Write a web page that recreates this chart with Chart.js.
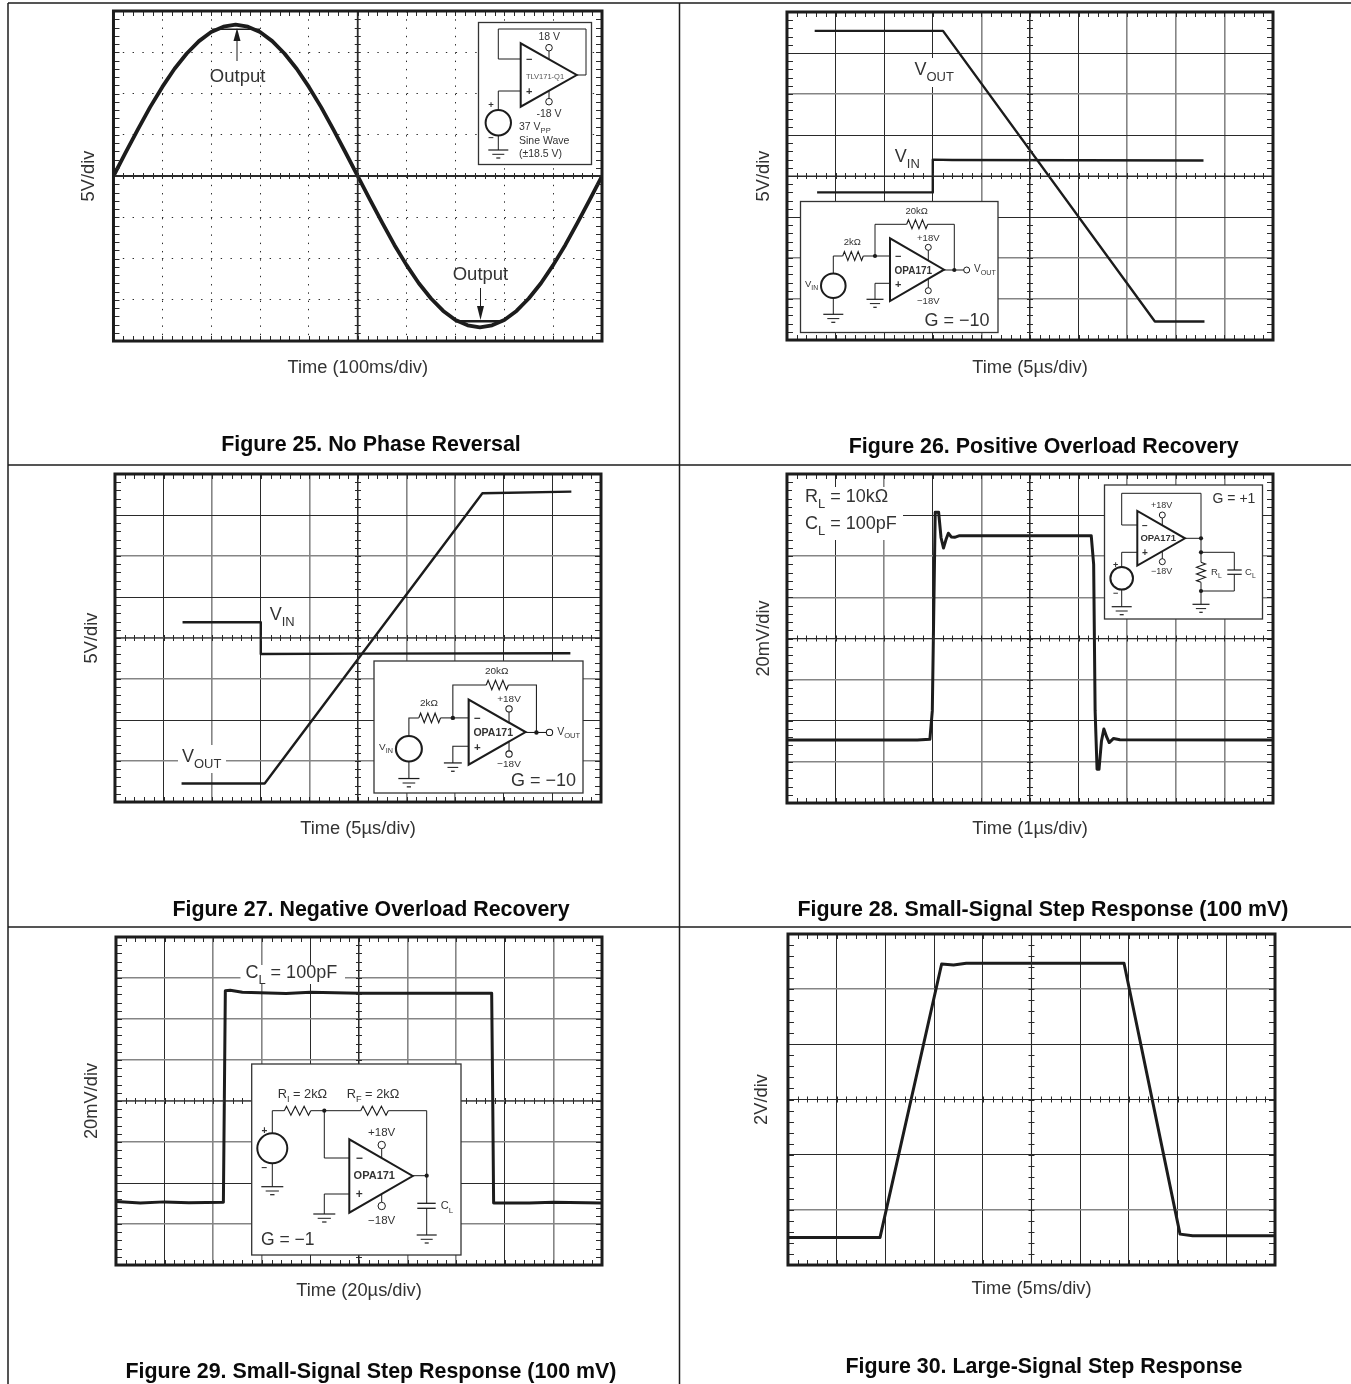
<!DOCTYPE html>
<html>
<head>
<meta charset="utf-8">
<script src="https://cdn.jsdelivr.net/npm/chart.js@4/dist/chart.umd.js"></script>
<style>
  html, body { margin: 0; padding: 0; background: #fff; }
  body { position: relative; width: 1351px; height: 1384px; overflow: hidden; font-family: 'Liberation Sans', Arial, sans-serif; }
  canvas { position: absolute; }
  svg { position: absolute; left: 0; top: 0; }
</style>
</head>
<body>
<script>
// all traces are in scope divisions: x 0..10, y counted from the centre line
const fig25SineX = [0, 0.25, 0.5, 0.75, 1, 1.25, 1.5, 1.75, 2, 2.25, 2.5, 2.75, 3, 3.25, 3.5, 3.75, 4, 4.25, 4.5, 4.75, 5, 5.25, 5.5, 5.75, 6, 6.25, 6.5, 6.75, 7, 7.25, 7.5, 7.75, 8, 8.25, 8.5, 8.75, 9, 9.25, 9.5, 9.75, 10];
const fig25SineY = [0, 0.57, 1.13, 1.67, 2.16, 2.6, 2.97, 3.27, 3.49, 3.62, 3.67, 3.62, 3.49, 3.27, 2.97, 2.6, 2.16, 1.67, 1.13, 0.57, 0, -0.57, -1.13, -1.67, -2.16, -2.6, -2.97, -3.27, -3.49, -3.62, -3.67, -3.62, -3.49, -3.27, -2.97, -2.6, -2.16, -1.67, -1.13, -0.57, 0];
const fig25ClipTopX = [2.02, 3];
const fig25ClipTopY = [3.56, 3.56];
const fig25ClipBottomX = [6.99, 7.96];
const fig25ClipBottomY = [-3.52, -3.52];

const fig26OutX = [0.57, 3.21, 7.57, 8.59];
const fig26OutY = [3.54, 3.54, -3.55, -3.55];
const fig26InX = [0.62, 3, 3, 3.4, 8.57];
const fig26InY = [-0.4, -0.4, 0.4, 0.39, 0.38];

const fig27InX = [1.39, 3, 3, 5, 9.37];
const fig27InY = [0.385, 0.385, -0.39, -0.38, -0.37];
const fig27OutX = [1.37, 3.08, 7.56, 9.39];
const fig27OutY = [-3.55, -3.55, 3.53, 3.57];

const fig28X = [0, 2.68, 2.94, 2.99, 3.05, 3.12, 3.17, 3.22, 3.27, 3.32, 3.38, 3.45, 3.55, 6.26, 6.31, 6.34, 6.38, 6.42, 6.47, 6.52, 6.58, 6.63, 6.72, 6.85, 10];
const fig28Y = [-2.47, -2.47, -2.45, -1.76, 3.07, 3.07, 2.45, 2.2, 2.4, 2.56, 2.47, 2.46, 2.5, 2.5, 1.8, -1.76, -3.18, -3.18, -2.5, -2.2, -2.4, -2.53, -2.43, -2.46, -2.47];

const fig29X = [0, 0.5, 1, 1.5, 2.21, 2.25, 2.35, 2.6, 3.5, 4, 5, 7.73, 7.75, 7.77, 8.5, 9, 10];
const fig29Y = [-2.45, -2.49, -2.46, -2.48, -2.47, 2.69, 2.7, 2.65, 2.62, 2.65, 2.63, 2.63, 0.25, -2.49, -2.49, -2.47, -2.49];

const fig30X = [0, 1.89, 3.155, 3.4, 3.66, 6.9, 8.05, 8.31, 10];
const fig30Y = [-2.5, -2.5, 2.456, 2.44, 2.47, 2.47, -2.44, -2.47, -2.47];

const xTitles = ['Time (100ms/div)', 'Time (5\u00b5s/div)', 'Time (5\u00b5s/div)', 'Time (1\u00b5s/div)', 'Time (20\u00b5s/div)', 'Time (5ms/div)'];
const yTitles = ['5V/div', '5V/div', '5V/div', '20mV/div', '20mV/div', '2V/div'];
const figureTitles = ['Figure 25. No Phase Reversal', 'Figure 26. Positive Overload Recovery', 'Figure 27. Negative Overload Recovery', 'Figure 28. Small-Signal Step Response (100 mV)', 'Figure 29. Small-Signal Step Response (100 mV)', 'Figure 30. Large-Signal Step Response'];

const pts = (xs, ys) => xs.map((x, i) => ({ x, y: ys[i] }));
const FONT = "'Liberation Sans', Arial, sans-serif";
const INK = '#1c1c1c';

const panels = [
  { left: 113.5, right: 603, top: 11, bottom: 342, yDivs: 4, yGap: 24.5, xGap: 27, dotted: true, greyX: [], greyY: [],
    traces: [{ d: pts(fig25SineX, fig25SineY), w: 3.8 }, { d: pts(fig25ClipTopX, fig25ClipTopY), w: 1.5 }, { d: pts(fig25ClipBottomX, fig25ClipBottomY), w: 2.5 }] },
  { left: 787, right: 1274, top: 12, bottom: 341, yDivs: 4, yGap: 23, xGap: 28, greyX: [4, 7, 8, 9], greyY: [2, -2, -3],
    traces: [{ d: pts(fig26OutX, fig26OutY), w: 2.4 }, { d: pts(fig26InX, fig26InY), w: 2.4 }] },
  { left: 114.5, right: 601, top: 474, bottom: 803, yDivs: 4, yGap: 23, xGap: 27, greyX: [2, 4, 6, 7], greyY: [2, 0, -1, -3],
    traces: [{ d: pts(fig27InX, fig27InY), w: 2.4 }, { d: pts(fig27OutX, fig27OutY), w: 2.4 }] },
  { left: 787, right: 1274, top: 474, bottom: 804, yDivs: 4, yGap: 23, xGap: 26, greyX: [2, 4, 7, 8, 9], greyY: [2, 1, 0, -1, -3],
    traces: [{ d: pts(fig28X, fig28Y), w: 3 }] },
  { left: 116, right: 603, top: 937, bottom: 1266, yDivs: 4, yGap: 24, xGap: 26, greyX: [2, 3, 6, 7, 9], greyY: [3, 2, 1, 0, -1, -3],
    traces: [{ d: pts(fig29X, fig29Y), w: 3 }] },
  { left: 788, right: 1276, top: 934, bottom: 1266, yDivs: 3, yGap: 26, xGap: 24, greyX: [], greyY: [2, -2],
    traces: [{ d: pts(fig30X, fig30Y), w: 3 }] }
];

const titleSize = 18.3;
const titleLine = titleSize * 1.2;

// frame, centre axes and the fifth-of-a-division ticks
const graticule = {
  id: 'graticule',
  afterDatasetsDraw(chart, args, opts) {
    const { ctx, chartArea: a, scales: { x, y } } = chart;
    const yDivs = y.max;
    ctx.save();
    ctx.strokeStyle = '#2a2a2a';
    ctx.lineWidth = 1;
    const seg = (x1, y1, x2, y2) => { ctx.beginPath(); ctx.moveTo(x1, y1); ctx.lineTo(x2, y2); ctx.stroke(); };
    for (let i = 1; i < 50; i++) {
      const px = Math.round(x.getPixelForValue(i / 5)) + 0.5;
      seg(px, a.top, px, a.top + 5);
      seg(px, a.bottom - 5, px, a.bottom);
      seg(px, y.getPixelForValue(0) - 3, px, y.getPixelForValue(0) + 3);
    }
    for (let i = -yDivs * 5 + 1; i < yDivs * 5; i++) {
      const py = Math.round(y.getPixelForValue(i / 5)) + 0.5;
      seg(a.left, py, a.left + 6, py);
      seg(a.right - 6, py, a.right, py);
      seg(x.getPixelForValue(5) - 3, py, x.getPixelForValue(5) + 3, py);
    }
    ctx.lineWidth = opts.centreWidth;
    seg(x.getPixelForValue(5), a.top, x.getPixelForValue(5), a.bottom);
    seg(a.left, y.getPixelForValue(0), a.right, y.getPixelForValue(0));
    ctx.lineWidth = 3;
    ctx.strokeStyle = INK;
    ctx.strokeRect(a.left, a.top, a.right - a.left, a.bottom - a.top);
    ctx.restore();
  }
};

panels.forEach((p, i) => {
  const canvas = document.createElement('canvas');
  const cLeft = p.left - p.yGap - titleLine / 2;
  const cTop = p.top - 3;
  const cBottom = p.bottom + p.xGap + titleLine / 2;
  canvas.width = p.right + 3 - cLeft;
  canvas.height = cBottom - cTop;
  canvas.style.left = cLeft + 'px';
  canvas.style.top = cTop + 'px';
  document.body.appendChild(canvas);
  const divW = (p.right - p.left) / 10;
  const divH = (p.bottom - p.top) / (p.yDivs * 2);
  new Chart(canvas, {
    type: 'line',
    plugins: [graticule],
    data: {
      datasets: p.traces.map(t => ({ data: t.d, borderColor: INK, borderWidth: t.w, pointRadius: 0, tension: 0, fill: false, borderJoinStyle: 'round' }))
    },
    options: {
      responsive: false,
      animation: false,
      devicePixelRatio: 1,
      layout: { padding: { top: 3, right: 3 } },
      plugins: { legend: { display: false }, tooltip: { enabled: false }, title: { display: false }, graticule: { centreWidth: p.dotted ? 1.8 : 1.1 } },
      scales: {
        x: {
          type: 'linear', min: 0, max: 10,
          ticks: { display: false, stepSize: 1, autoSkip: false },
          border: { display: false, dash: p.dotted ? [1.4, divH / 5 - 1.4] : [] },
          grid: {
            drawTicks: false,
            color: c => p.greyX.includes(c.tick.value) ? '#858585' : '#2a2a2a',
            lineWidth: c => p.greyX.includes(c.tick.value) ? 1.6 : 1
          },
          title: { display: true, text: xTitles[i], color: '#333', padding: 0, font: { family: FONT, size: titleSize, lineHeight: 1.2 } },
          afterFit: s => { s.height = cBottom - p.bottom; }
        },
        y: {
          type: 'linear', min: -p.yDivs, max: p.yDivs,
          ticks: { display: false, stepSize: 1, autoSkip: false },
          border: { display: false, dash: p.dotted ? [1.4, divW / 5 - 1.4] : [] },
          grid: {
            drawTicks: false,
            color: c => p.greyY.includes(c.tick.value) ? '#858585' : '#2a2a2a',
            lineWidth: c => p.greyY.includes(c.tick.value) ? 1.6 : 1
          },
          title: { display: true, text: yTitles[i], color: '#333', padding: 0, font: { family: FONT, size: titleSize, lineHeight: 1.2 } },
          afterFit: s => { s.width = p.left - cLeft; }
        }
      }
    }
  });
});

// schematic and annotation helpers, absolute page pixels
const line = (x1, y1, x2, y2, w = 1) => `<line x1="${x1}" y1="${y1}" x2="${x2}" y2="${y2}" stroke="${INK}" stroke-width="${w}"/>`;
const wire = (coords, w = 1) => `<polyline points="${coords}" fill="none" stroke="${INK}" stroke-width="${w}"/>`;
const txt = (x, y, s, size, anchor = 'start', extra = '', fill = '#333') => `<text x="${x}" y="${y}" font-size="${size}" text-anchor="${anchor}" fill="${fill}" ${extra}>${s}</text>`;
const sub = (x, y, base, low, size, anchor = 'start', tail = '') => {
  const small = size * 0.72;
  return `<text x="${x}" y="${y}" font-size="${size}" text-anchor="${anchor}" fill="#333">${base}<tspan dy="${size * 0.33}" font-size="${small}">${low}</tspan><tspan dy="${-size * 0.33}">${tail}</tspan></text>`;
};
const box = (x1, y1, x2, y2) => `<rect x="${x1}" y="${y1}" width="${x2 - x1}" height="${y2 - y1}" fill="#fff" stroke="#333" stroke-width="1.3"/>`;
const blank = (x1, y1, x2, y2) => `<rect x="${x1}" y="${y1}" width="${x2 - x1}" height="${y2 - y1}" fill="#fff"/>`;
const ground = (x, y, w) => line(x - w / 2, y, x + w / 2, y, 1.2) + line(x - w * 0.3, y + 4.3, x + w * 0.3, y + 4.3) + line(x - w * 0.1, y + 8, x + w * 0.1, y + 8, 1.2);
const node = (x, y) => `<circle cx="${x}" cy="${y}" r="2.1" fill="${INK}"/>`;
const ring = (x, y, r = 3) => `<circle cx="${x}" cy="${y}" r="${r}" fill="#fff" stroke="${INK}" stroke-width="1"/>`;
const source = (x, y, r) => `<circle cx="${x}" cy="${y}" r="${r}" fill="#fff" stroke="${INK}" stroke-width="2"/>`;
const amp = (x, y1, y2, tipX) => `<polygon points="${x},${y1} ${x},${y2} ${tipX},${(y1 + y2) / 2}" fill="#fff" stroke="${INK}" stroke-width="2"/>`;
const zigH = (x1, x2, y, h = 4.5) => {
  const step = (x2 - x1) / 6;
  const c = [`${x1},${y}`];
  [-1, 1, -1, 1, -1, 1].forEach((s, i) => c.push(`${x1 + step * (i + 0.5)},${y + s * h}`));
  c.push(`${x2},${y}`);
  return wire(c.join(' '), 1.1);
};
const zigV = (x, y1, y2, h = 4.5) => {
  const step = (y2 - y1) / 6;
  const c = [`${x},${y1}`];
  [1, -1, 1, -1, 1, -1].forEach((s, i) => c.push(`${x + s * h},${y1 + step * (i + 0.5)}`));
  c.push(`${x},${y2}`);
  return wire(c.join(' '), 1.1);
};

// same inverting circuit in figures 26 and 27, drawn in figure 26 coordinates
const invertingCircuit = () =>
  wire('833.3,273 833.3,256 842.7,256') + zigH(842.7, 863.3, 256) + wire('863.3,256 890,256') +
  wire('875,256 875,224.3 906.7,224.3') + zigH(906.7, 927.7, 224.3) + wire('927.7,224.3 954.3,224.3 954.3,270') +
  wire('944,270 964,270') + line(833.3, 298, 833.3, 314.3) + ground(833.3, 314.3, 20) +
  wire('890,283.3 875,283.3 875,299.3') + ground(875, 299.3, 17) +
  line(928.3, 250, 928.3, 261) + line(928.3, 278.5, 928.3, 288) +
  amp(890, 238.3, 301, 944) + source(833.3, 285.7, 12.3) +
  node(875, 256) + node(954.3, 270) + ring(966.7, 270) + ring(928.3, 247.3) + ring(928.3, 290.7) +
  txt(852.3, 245, '2k\u03a9', 9.5, 'middle') + txt(916.7, 213.7, '20k\u03a9', 9.5, 'middle') +
  txt(928.3, 241, '+18V', 9.5, 'middle') + txt(928.3, 303.7, '\u221218V', 9.5, 'middle') +
  txt(898.3, 259.5, '\u2212', 11, 'middle', 'font-weight="bold"') + txt(898.3, 287.5, '+', 11, 'middle', 'font-weight="bold"') +
  txt(913.3, 273.5, 'OPA171', 10, 'middle', 'font-weight="bold"') +
  sub(974, 272, 'V', 'OUT', 10) + sub(805, 287, 'V', 'IN', 9.5);

let svg = '';

// table rules
svg += line(8, 3, 1351, 3, 1.5) + line(8, 3, 8, 1384, 1.5) + line(679.5, 3, 679.5, 1384, 1.5);
svg += line(8, 465, 1351, 465, 1.5) + line(8, 927, 1351, 927, 1.5);

// figure captions
const captions = [[371, 450.5], [1043.7, 452.5], [371, 915.5], [1043, 915.5], [371, 1377.5], [1044, 1372.5]];
captions.forEach((c, i) => { svg += txt(c[0], c[1], figureTitles[i], 21.4, 'middle', 'font-weight="bold"', '#0a0a0a'); });

// figure 25
svg += txt(237.6, 81.5, 'Output', 18.5, 'middle') + txt(480.5, 279.5, 'Output', 18.5, 'middle');
svg += line(237, 61, 237, 36, 1) + `<polygon points="237,28 233.5,41 240.5,41" fill="${INK}"/>`;
svg += line(480.5, 288, 480.5, 308, 1) + `<polygon points="480.5,320 477,306 484,306" fill="${INK}"/>`;
svg += box(478.5, 22.5, 591.5, 164.5);
svg += wire('520.7,59 498.3,59 498.3,29 586,29 586,75 576.7,75') + wire('520.7,91 498.3,91 498.3,110');
svg += line(498.3, 135, 498.3, 150) + ground(498.3, 150, 20);
svg += line(549, 51, 549, 60) + line(549, 90, 549, 98);
svg += amp(520.7, 43.3, 106.7, 576.7) + source(498.3, 122.7, 12.7) + ring(549, 47.7, 3.3) + ring(549, 101.7, 3.3);
svg += txt(549.3, 40, '18 V', 10.5, 'middle') + txt(549, 116.7, '-18 V', 10.5, 'middle');
svg += txt(529.3, 63, '\u2212', 11, 'middle', 'font-weight="bold"') + txt(529.3, 95, '+', 11, 'middle', 'font-weight="bold"');
svg += txt(491, 108, '+', 9.5, 'middle', 'font-weight="bold"') + txt(491, 141, '\u2212', 9.5, 'middle', 'font-weight="bold"');
svg += txt(545, 79, 'TLV171-Q1', 7.5, 'middle', '', '#555');
svg += sub(519, 130, '37 V', 'PP', 10.5) + txt(519, 144.3, 'Sine Wave', 10.5) + txt(519, 156.5, '(\u00b118.5 V)', 10.5);

// figure 26
svg += blank(912, 58, 956, 87) + sub(914.5, 75, 'V', 'OUT', 18);
svg += sub(894.8, 162, 'V', 'IN', 18);
svg += box(800.5, 201.5, 998, 332.5) + invertingCircuit();
svg += txt(989.5, 326, 'G = \u221210', 18, 'end');

// figure 27
svg += sub(269.7, 620, 'V', 'IN', 18);
svg += blank(178, 745, 226, 773) + sub(182, 761.7, 'V', 'OUT', 18);
svg += box(374, 661, 583, 793);
svg += `<g transform="translate(373.8 660.7) scale(1.054 1.04) translate(-800 -201)">${invertingCircuit()}</g>`;
svg += txt(576, 785.5, 'G = \u221210', 18, 'end');

// figure 28
svg += blank(792, 487, 903, 540);
svg += sub(805, 502, 'R', 'L', 18, 'start', ' = 10k\u03a9') + sub(805, 529, 'C', 'L', 18, 'start', ' = 100pF');
svg += box(1104.5, 485, 1262.5, 619);
svg += wire('1137.3,525 1121.7,525 1121.7,493.3 1201,493.3 1201,562.3') + zigV(1201, 562.3, 582.3) + wire('1201,582.3 1201,604.3');
svg += wire('1185,538.3 1201,538.3') + wire('1201,552.3 1234.3,552.3 1234.3,570') + wire('1234.3,574.3 1234.3,591 1201,591');
svg += line(1227.3, 570, 1241.7, 570, 1.2) + line(1227.3, 574.3, 1241.7, 574.3, 1.2);
svg += wire('1137.3,552.3 1121.7,552.3 1121.7,567') + line(1121.7, 589.6, 1121.7, 606.7);
svg += ground(1201, 604.3, 17) + ground(1121.7, 606.7, 20);
svg += line(1162.3, 518, 1162.3, 526) + line(1162.3, 551, 1162.3, 559);
svg += amp(1137.3, 511, 565.6, 1185) + source(1121.7, 578.3, 11.3);
svg += node(1201, 538.3) + node(1201, 552.3) + node(1201, 591) + ring(1162.3, 515) + ring(1162.3, 561.7);
svg += txt(1161.7, 507.7, '+18V', 9, 'middle') + txt(1161.7, 574.3, '\u221218V', 9, 'middle');
svg += txt(1158.3, 541.3, 'OPA171', 9.5, 'middle', 'font-weight="bold"');
svg += txt(1145, 529, '\u2212', 10, 'middle', 'font-weight="bold"') + txt(1145, 556, '+', 10, 'middle', 'font-weight="bold"');
svg += txt(1115.7, 568, '+', 9, 'middle', 'font-weight="bold"') + txt(1115.7, 596, '\u2212', 9, 'middle', 'font-weight="bold"');
svg += sub(1211, 575, 'R', 'L', 9.5) + sub(1245, 575, 'C', 'L', 9.5);
svg += txt(1234, 503.3, 'G = +1', 14, 'middle');

// figure 29
svg += blank(240.5, 965, 345, 984) + sub(245.4, 978, 'C', 'L', 18, 'start', ' = 100pF');
svg += box(251.7, 1064, 461, 1255);
svg += wire('272.3,1133 272.3,1110.7 284.3,1110.7') + zigH(284.3, 310.7, 1110.7) + wire('310.7,1110.7 360.7,1110.7') + zigH(360.7, 388.3, 1110.7) + wire('388.3,1110.7 426.7,1110.7 426.7,1203.3');
svg += wire('412.7,1175.7 426.7,1175.7') + line(426.7, 1208.3, 426.7, 1235);
svg += line(417.3, 1203.3, 435.7, 1203.3, 1.3) + line(417.3, 1208.3, 435.7, 1208.3, 1.3);
svg += wire('324.3,1110.7 324.3,1158 349.3,1158') + wire('349.3,1194 324.3,1194 324.3,1214');
svg += line(272.3, 1163, 272.3, 1186.7);
svg += ground(272.3, 1186.7, 22) + ground(324.3, 1214, 22) + ground(426.7, 1235, 20);
svg += line(381.7, 1149, 381.7, 1158) + line(381.7, 1194, 381.7, 1202);
svg += amp(349.3, 1139.3, 1212.7, 412.7) + source(272.3, 1148.3, 15);
svg += node(324.3, 1110.7) + node(426.7, 1175.7) + ring(381.7, 1145, 3.7) + ring(381.7, 1206, 3.7);
svg += sub(277.7, 1097.7, 'R', 'I', 12.8, 'start', ' = 2k\u03a9') + sub(346.7, 1097.7, 'R', 'F', 12.8, 'start', ' = 2k\u03a9');
svg += txt(381.7, 1136, '+18V', 11.5, 'middle') + txt(381.7, 1224, '\u221218V', 11.5, 'middle');
svg += txt(374.3, 1179.3, 'OPA171', 11, 'middle', 'font-weight="bold"');
svg += txt(359.3, 1162, '\u2212', 12, 'middle', 'font-weight="bold"') + txt(359.3, 1198, '+', 12, 'middle', 'font-weight="bold"');
svg += txt(264.3, 1134, '+', 10, 'middle', 'font-weight="bold"') + txt(264.3, 1171, '\u2212', 10, 'middle', 'font-weight="bold"');
svg += sub(440.7, 1209.3, 'C', 'L', 11);
svg += txt(261, 1245, 'G = \u22121', 17.5);

const overlay = document.createElementNS('http://www.w3.org/2000/svg', 'svg');
overlay.setAttribute('width', 1351);
overlay.setAttribute('height', 1384);
overlay.setAttribute('font-family', FONT);
overlay.innerHTML = svg;
document.body.appendChild(overlay);
</script>
</body>
</html>
